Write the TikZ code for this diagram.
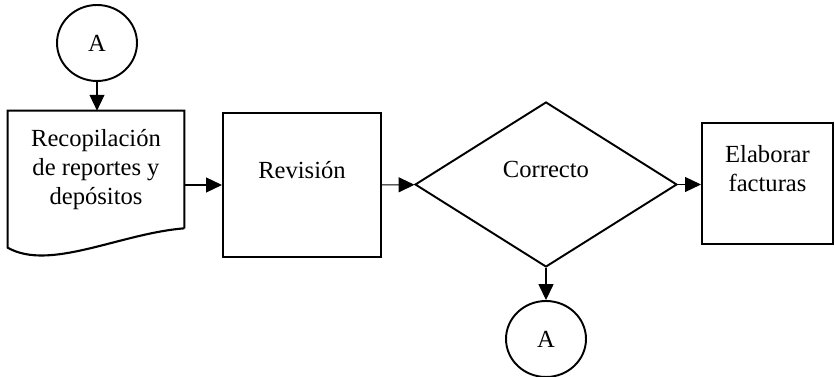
\documentclass[tikz,border=0pt]{standalone}
\usepackage{fontspec}
\setmainfont{Liberation Serif}
\usetikzlibrary{positioning,calc,arrows.meta,shapes.geometric}

\begin{document}
\begin{tikzpicture}[
  x=0.02cm, y=-0.02cm,
  every node/.style={font=\fontsize{14}{16.5}\selectfont},
  proc/.style={draw, line width=1.2pt, inner sep=0pt},
  conector/.style={ellipse, draw, line width=1.1pt, minimum width=1.6cm, minimum height=1.52cm, inner sep=0pt},
  decision/.style={diamond, draw, line width=1.1pt, minimum width=5.24cm, minimum height=3.3cm, inner sep=0pt},
  txt/.style={align=center, yshift=8.3pt},
  conn/.style={line width=0.6pt, -{Triangle[width=8.5pt,length=9pt]}}
]
\useasboundingbox (0,0) rectangle (835,377);

\node[conector] (A1) at (97,43) {A};
\node[align=center, minimum width=3.52cm, minimum height=2.34cm, inner sep=0pt] (doc) at (96,169.5)
  {Recopilación\\de reportes y\\depósitos};
\draw[line width=1.2pt] (doc.south east) -- (doc.north east) -- (doc.north west)
  -- ($(doc.north west)+(0,137)$)
  .. controls ($(doc.north west)+(42,161)$) and ($(doc.south east)+(-64,5)$) .. (doc.south east);

\node[proc, minimum width=3.16cm, minimum height=2.88cm, label={[txt]center:Revisión}] (rev) at (302,185) {};
\node[decision, label={[txt]center:Correcto}] (dec) at (546,184.5) {};
\node[proc, minimum width=2.62cm, minimum height=2.42cm, label={[txt]center:{Elaborar\\facturas}}] (elab) at (767.5,183.5) {};
\node[conector] (A2) at (546,339) {A};

\draw[conn] (A1) -- (A1 |- doc.north);
\draw[conn] (doc.east |- rev) -- (rev);
\draw[conn] (rev) -- (dec);
\draw[conn] (dec.east) -- (dec.east -| elab.west);
\draw[conn] (dec) -- (A2);
\end{tikzpicture}
\end{document}
